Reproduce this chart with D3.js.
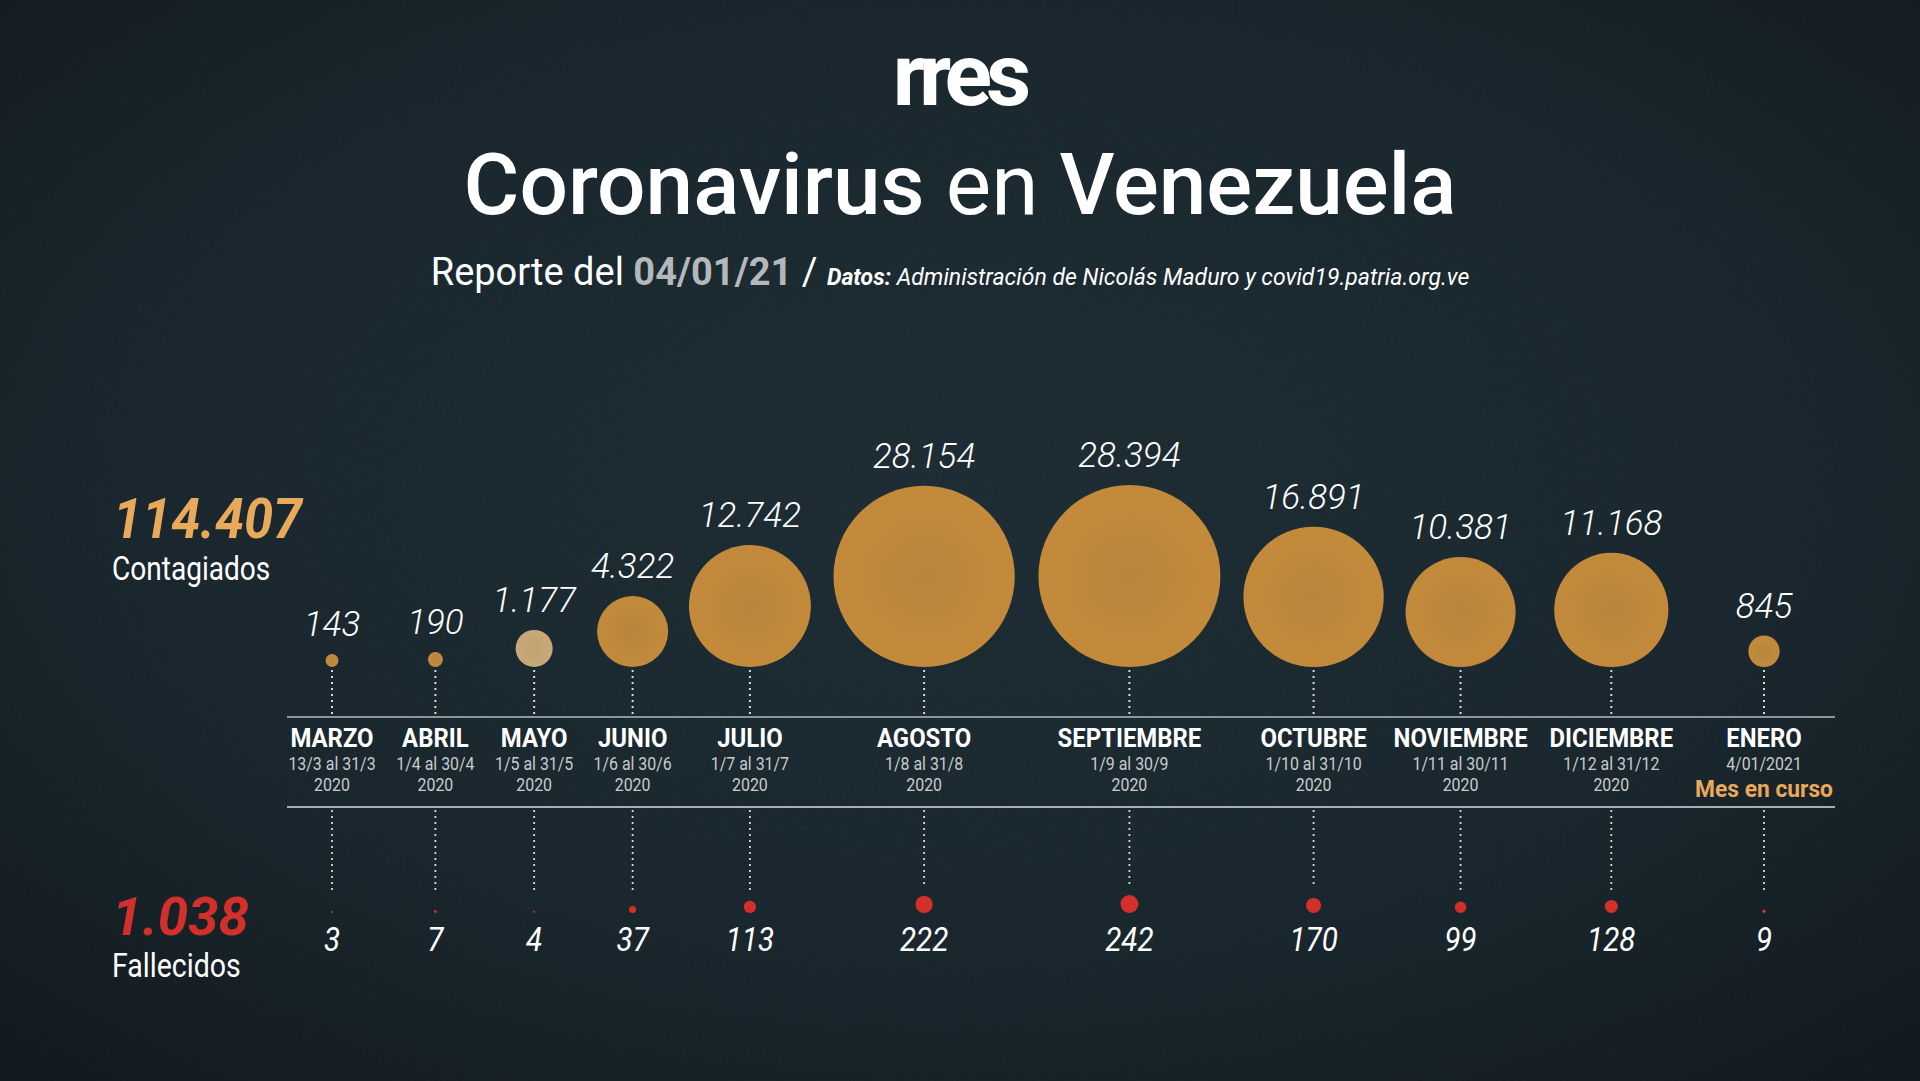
<!DOCTYPE html>
<html><head><meta charset="utf-8">
<script src="https://cdn.jsdelivr.net/npm/d3@7"></script>
<style>
html,body{margin:0;padding:0;background:#141d22;overflow:hidden}
svg{display:block}
text{font-family:Roboto,"Noto Sans",sans-serif}
</style></head>
<body><svg id="chart" width="1920" height="1081"></svg>
<script>
// ---------- DATA ----------
const months = ["MARZO","ABRIL","MAYO","JUNIO","JULIO","AGOSTO","SEPTIEMBRE","OCTUBRE","NOVIEMBRE","DICIEMBRE","ENERO"];
const ranges = ["13/3 al 31/3","1/4 al 30/4","1/5 al 31/5","1/6 al 30/6","1/7 al 31/7","1/8 al 31/8","1/9 al 30/9","1/10 al  31/10","1/11 al 30/11","1/12 al 31/12","4/01/2021"];
const years = ["2020","2020","2020","2020","2020","2020","2020","2020","2020","2020",""];
const cases = [143,190,1177,4322,12742,28154,28394,16891,10381,11168,845];
const deaths = [3,7,4,37,113,222,242,170,99,128,9];
const totalCases = 114407;
const totalDeaths = 1038;
const currentMonthNote = "Mes en curso";
const titleParts = [["Coronavirus",500],[" en ",400],["Venezuela",500]];
const reportDate = "04/01/21";
const sourceText = " Administración de Nicolás Maduro y covid19.patria.org.ve";

// ---------- SETUP ----------
const W = 1920, H = 1081;
const svg = d3.select("#chart");
const defs = svg.append("defs");
const loc = d3.formatLocale({decimal:",", thousands:".", grouping:[3], currency:["",""]});
const fmt = loc.format(",d");

const bg = defs.append("radialGradient").attr("id","bg").attr("cx","50%").attr("cy","45%").attr("r","75%");
bg.append("stop").attr("offset","0%").attr("stop-color","#1f2e36");
bg.append("stop").attr("offset","60%").attr("stop-color","#1a272e");
bg.append("stop").attr("offset","100%").attr("stop-color","#121a1f");
const nf = defs.append("filter").attr("id","noise").attr("x",0).attr("y",0).attr("width","100%").attr("height","100%");
nf.append("feTurbulence").attr("type","fractalNoise").attr("baseFrequency","0.8").attr("numOctaves",3).attr("seed",4);
nf.append("feColorMatrix").attr("type","matrix").attr("values","0 0 0 0 0  0 0 0 0 0  0 0 0 0 0  0 0 0 -1.2 0.55");
const cg = defs.append("radialGradient").attr("id","disc");
cg.append("stop").attr("offset","0%").attr("stop-color","#b6853d");
cg.append("stop").attr("offset","100%").attr("stop-color","#c48a3b");
const cgl = defs.append("radialGradient").attr("id","discLight");
cgl.append("stop").attr("offset","0%").attr("stop-color","#bfa274");
cgl.append("stop").attr("offset","100%").attr("stop-color","#caa978");

svg.append("rect").attr("width",W).attr("height",H).attr("fill","url(#bg)");
svg.append("rect").attr("width",W).attr("height",H).attr("filter","url(#noise)").attr("opacity",0.3);

// ---------- HEADER ----------
svg.append("text").attr("x",959).attr("y",105).attr("text-anchor","middle")
  .attr("font-size",88).attr("font-weight",700).attr("letter-spacing",-6).attr("fill","#ffffff").text("rres");

const title = svg.append("text").attr("x",960).attr("y",214).attr("text-anchor","middle")
  .attr("font-size",85.5).attr("fill","#ffffff");
titleParts.forEach(([t,w]) => title.append("tspan").attr("font-weight",w).text(t));

const sub = svg.append("text").attr("x",950).attr("y",285).attr("text-anchor","middle").attr("fill","#ffffff");
sub.append("tspan").attr("font-size",38).attr("font-weight",400).text("Reporte del ");
sub.append("tspan").attr("font-size",38).attr("font-weight",700).attr("fill","#b4b8ba").text(reportDate);
sub.append("tspan").attr("font-size",38).attr("font-weight",400).text(" / ");
sub.append("tspan").attr("font-size",23).attr("font-weight",700).attr("font-style","italic").text("Datos:");
sub.append("tspan").attr("font-size",23).attr("font-weight",400).attr("font-style","italic").text(sourceText);

// ---------- SCALES ----------
const baseY = 667;          // bottom of case discs
const axisTop = 717, axisBottom = 807;
const deathBase = 913;
const rScale = d3.scaleSqrt().domain([0, d3.max(cases)]).range([0, 91]);
const dScale = d3.scaleSqrt().domain([0, d3.max(deaths)]).range([0, 9]);

const data = months.map((m,i) => ({m, range:ranges[i], year:years[i], c:cases[i], d:deaths[i], r:rScale(cases[i]), rd:dScale(deaths[i])}));

// month label groups (built first so their widths drive the layout)
const lab = svg.append("g").selectAll("g").data(data).join("g");
lab.append("text").attr("transform","translate(0,747) scale(0.92,1)").attr("text-anchor","middle")
  .attr("font-size",26).attr("font-weight",700).attr("fill","#ffffff").text(d=>d.m);
lab.append("text").attr("transform","translate(0,770) scale(0.91,1)").attr("text-anchor","middle")
  .attr("font-size",17.5).attr("fill","#c9cbcc").text(d=>d.range);
lab.append("text").attr("transform","translate(0,791) scale(0.91,1)").attr("text-anchor","middle")
  .attr("font-size",17.5).attr("fill","#c9cbcc").text(d=>d.year);
lab.filter(d=>d.year==="").append("text").attr("transform","translate(0,797) scale(0.95,1)").attr("text-anchor","middle")
  .attr("font-size",24).attr("font-weight",700).attr("fill","#e9a95b").text(currentMonthNote);

const widths = [];
lab.each(function(){ widths.push(this.getBBox().width); });

// cumulative layout: gap = max(disc gap, label gap)
const pos = [0];
for (let i=1;i<data.length;i++){
  const g = Math.max(data[i-1].r + data[i].r + 17, (widths[i-1]+widths[i])/2 + 17);
  pos.push(pos[i-1] + g);
}
const x = d3.scaleLinear().domain([0, pos[pos.length-1]]).range([332, 1764]);
data.forEach((d,i)=> d.x = x(pos[i]));
lab.attr("transform", d=>`translate(${d.x},0)`);

// ---------- AXIS LINES ----------
svg.append("line").attr("x1",287).attr("x2",1835).attr("y1",axisTop).attr("y2",axisTop)
  .attr("stroke","#8d9498").attr("stroke-width",2);
svg.append("line").attr("x1",287).attr("x2",1835).attr("y1",axisBottom).attr("y2",axisBottom)
  .attr("stroke","#d9dcdd").attr("stroke-width",1.5);

// ---------- CONTAGIADOS ----------
const gCases = svg.append("g");
gCases.selectAll("line").data(data).join("line")
  .attr("x1",d=>d.x).attr("x2",d=>d.x).attr("y1",baseY+3).attr("y2",axisTop-2)
  .attr("stroke","#d8d8d8").attr("stroke-width",2).attr("stroke-dasharray","2 4");
gCases.selectAll("circle").data(data).join("circle")
  .attr("cx",d=>d.x).attr("cy",d=>baseY-d.r).attr("r",d=>d.r)
  .attr("fill",d=>d.m==="MAYO" ? "url(#discLight)" : "url(#disc)");
gCases.selectAll("text").data(data).join("text")
  .attr("x",d=>d.x).attr("y",d=>baseY-2*d.r-18).attr("text-anchor","middle")
  .attr("font-size",35).attr("font-weight",300).attr("font-style","italic").attr("fill","#ffffff")
  .text(d=>fmt(d.c));

// ---------- FALLECIDOS ----------
const gDeaths = svg.append("g");
gDeaths.selectAll("line").data(data).join("line")
  .attr("x1",d=>d.x).attr("x2",d=>d.x).attr("y1",axisBottom+3)
  .attr("y2",d=>Math.min(894, deathBase-2*d.rd-10))
  .attr("stroke","#d8d8d8").attr("stroke-width",1.8).attr("stroke-dasharray","2 4");
gDeaths.selectAll("circle").data(data).join("circle")
  .attr("cx",d=>d.x).attr("cy",d=>deathBase-d.rd).attr("r",d=>d.rd).attr("fill","#d3302c");
gDeaths.selectAll("text").data(data).join("text")
  .attr("transform",d=>`translate(${d.x},951) scale(0.87,1)`).attr("text-anchor","middle")
  .attr("font-size",34).attr("font-weight",400).attr("font-style","italic").attr("fill","#ffffff")
  .text(d=>fmt(d.d));

// ---------- TOTALS ----------
svg.append("text").attr("transform","translate(113,538) scale(0.95,1)")
  .attr("font-size",55).attr("font-weight",700).attr("font-style","italic").attr("fill","#e9a95b").text(fmt(totalCases));
svg.append("text").attr("transform","translate(112,580) scale(0.85,1)")
  .attr("font-size",33).attr("fill","#ffffff").text("Contagiados");
svg.append("text").attr("transform","translate(112,935) scale(1.03,1)")
  .attr("font-size",53).attr("font-weight",700).attr("font-style","italic").attr("fill","#d3302c").text(fmt(totalDeaths));
svg.append("text").attr("transform","translate(112,977) scale(0.865,1)")
  .attr("font-size",33).attr("fill","#ffffff").text("Fallecidos");
</script></body></html>
